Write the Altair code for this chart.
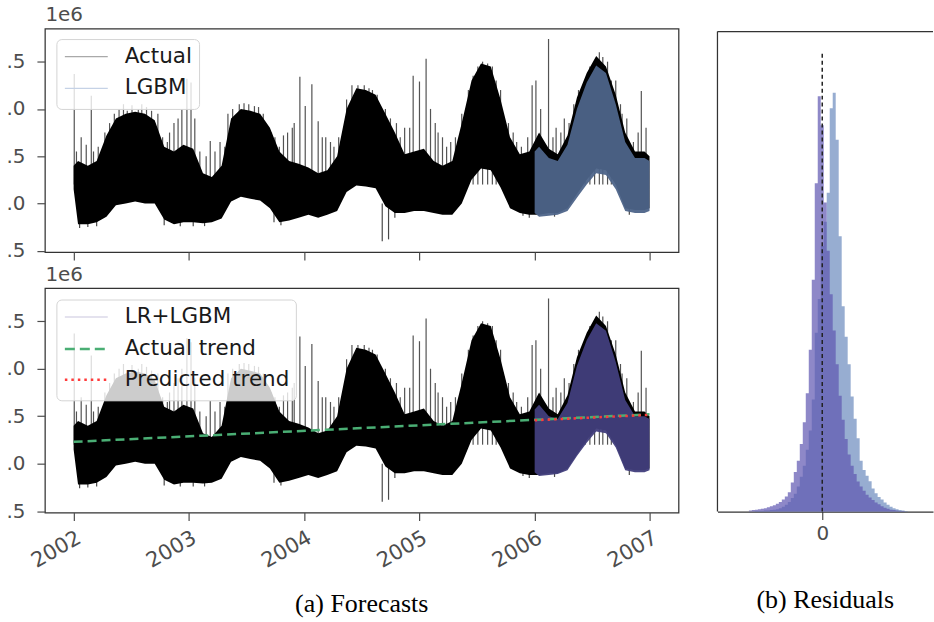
import altair as alt
import pandas as pd

# ---------------- data (values in units of 1e6) ----------------
YEARS = [2002, 2003, 2004, 2005, 2006, 2007]
Y_TICKS = [0.5, 1.0, 1.5, 2.0, 2.5]

ACT_DATES = ["2002-01-01"] + [f"{y}-{m:02d}-15" for y in range(2002, 2007) for m in range(1, 13)] + ["2006-12-31"]
ACT_HI = [1.40,
          1.45, 1.40, 1.45, 1.72, 1.90, 1.95, 1.97, 1.95, 1.88, 1.60, 1.55, 1.62,
          1.58, 1.32, 1.28, 1.40, 1.90, 2.00, 1.98, 1.95, 1.80, 1.55, 1.45, 1.42,
          1.38, 1.32, 1.35, 1.50, 2.00, 2.22, 2.20, 2.15, 1.95, 1.75, 1.52, 1.55,
          1.58, 1.45, 1.40, 1.45, 1.85, 2.30, 2.48, 2.45, 2.10, 1.70, 1.52, 1.55,
          1.75, 1.58, 1.52, 1.72, 2.12, 2.38, 2.56, 2.45, 2.15, 1.75, 1.55, 1.55,
          1.50]
ACT_LO = [1.15,
          0.78, 0.78, 0.80, 0.86, 0.98, 1.00, 1.02, 1.00, 1.00, 0.83, 0.78, 0.80,
          0.80, 0.79, 0.80, 0.84, 1.02, 1.07, 1.05, 1.03, 0.95, 0.80, 0.82, 0.85,
          0.88, 0.85, 0.88, 0.92, 1.12, 1.19, 1.18, 1.16, 0.97, 0.90, 0.90, 0.92,
          0.92, 0.90, 0.88, 0.88, 1.00, 1.25, 1.37, 1.35, 1.17, 0.95, 0.90, 0.88,
          0.88, 0.90, 0.90, 0.95, 1.10, 1.25, 1.37, 1.35, 1.20, 0.95, 0.93, 0.93,
          0.95]

FC_DATES = ["2006-01-01"] + [f"2006-{m:02d}-15" for m in range(1, 13)] + ["2006-12-31"]
LGBM_HI = [1.55, 1.60, 1.48, 1.45, 1.62, 2.00, 2.28, 2.46, 2.38, 2.05, 1.65, 1.48, 1.48, 1.45]
LGBM_LO = [0.90, 0.86, 0.87, 0.88, 0.92, 1.06, 1.20, 1.32, 1.30, 1.15, 0.92, 0.90, 0.90, 0.92]
LRL_HI = [1.57, 1.62, 1.50, 1.47, 1.64, 2.03, 2.30, 2.48, 2.40, 2.07, 1.67, 1.50, 1.50, 1.47]
LRL_LO = [0.91, 0.87, 0.88, 0.89, 0.93, 1.08, 1.22, 1.34, 1.32, 1.17, 0.93, 0.91, 0.91, 0.93]

SPIKE_DATES = ["2002-01-03", "2002-01-10", "2002-01-25", "2002-02-10", "2002-02-26", "2002-03-05",
               "2002-03-20", "2002-04-10", "2002-04-25", "2002-05-10", "2002-05-25", "2002-06-08",
               "2002-06-20", "2002-07-05", "2002-07-25", "2002-08-05", "2002-08-20", "2002-09-05",
               "2002-09-25", "2002-10-10", "2002-10-25", "2002-11-01", "2002-11-15", "2002-11-28",
               "2002-12-10", "2002-12-26", "2003-01-08", "2003-01-20", "2003-02-05", "2003-02-25",
               "2003-03-10", "2003-03-25", "2003-04-10", "2003-04-25", "2003-05-05", "2003-05-20",
               "2003-06-10", "2003-06-25", "2003-07-10", "2003-07-28", "2003-08-10", "2003-08-25",
               "2003-09-20", "2003-10-01", "2003-10-15", "2003-10-28", "2003-11-10", "2003-11-25",
               "2003-12-01", "2003-12-19", "2004-01-05", "2004-01-26", "2004-02-15", "2004-02-28",
               "2004-03-10", "2004-03-25", "2004-04-05", "2004-04-20", "2004-05-15", "2004-06-01",
               "2004-06-20", "2004-07-10", "2004-07-25", "2004-08-05", "2004-08-20", "2004-09-15",
               "2004-10-01", "2004-10-20", "2004-11-01", "2004-11-15", "2004-12-01", "2004-12-12",
               "2005-01-01", "2005-01-22", "2005-02-05", "2005-02-20", "2005-03-01", "2005-03-15",
               "2005-03-28", "2005-04-10", "2005-04-25", "2005-05-15", "2005-06-05", "2005-06-20",
               "2005-07-05", "2005-07-20", "2005-08-05", "2005-08-20", "2005-09-01", "2005-09-15",
               "2005-10-10", "2005-10-25", "2005-11-05", "2005-11-20", "2005-12-10", "2005-12-24",
               "2006-01-05", "2006-01-20", "2006-02-14", "2006-02-28", "2006-03-10", "2006-03-25",
               "2006-04-05", "2006-04-20", "2006-05-05", "2006-05-20", "2006-06-10", "2006-06-25",
               "2006-07-10", "2006-07-25", "2006-08-05", "2006-08-20", "2006-09-01", "2006-09-15",
               "2006-09-30", "2006-10-05", "2006-10-20", "2006-11-10", "2006-11-25", "2006-12-05",
               "2006-12-20"]
SPIKE_TOPS = [2.37, 1.55, 1.70, 1.62, 2.14, 1.55,
              1.60, 1.75, 1.85, 1.95, 2.00, 2.05,
              1.98, 2.04, 2.00, 2.05, 2.02, 1.98,
              1.95, 1.70, 1.65, 1.75, 1.85, 1.90,
              2.00, 2.32, 2.28, 1.90, 1.55, 1.50,
              1.66, 1.55, 1.65, 1.60, 1.95, 2.00,
              2.05, 2.06, 2.05, 2.03, 2.02, 1.95,
              1.75, 1.70, 1.60, 1.72, 1.75, 1.80,
              1.85, 2.34, 2.03, 2.26, 1.87, 1.70,
              1.70, 1.65, 1.60, 1.70, 2.10, 2.25,
              2.25, 2.25, 2.22, 2.20, 2.15, 2.00,
              1.90, 1.85, 1.70, 1.80, 1.80, 2.35,
              2.29, 2.53, 2.00, 1.85, 1.75, 1.70,
              1.60, 1.65, 1.70, 1.95, 2.20, 2.35,
              2.45, 2.50, 2.48, 2.45, 2.30, 2.20,
              1.85, 1.75, 1.65, 1.60, 1.70, 2.25,
              2.30, 2.00, 2.74, 1.70, 1.80, 1.75,
              1.90, 1.85, 2.05, 2.20, 2.30, 2.45,
              2.50, 2.60, 2.55, 2.50, 2.30, 2.30,
              2.05, 1.95, 1.90, 1.65, 1.75, 2.19,
              1.80]
DIP_DATES = ["2002-01-20", "2002-02-15", "2002-03-15", "2002-10-15", "2002-12-05", "2003-01-15",
             "2003-02-20", "2003-09-28", "2003-10-20", "2004-09-05", "2004-09-25", "2004-10-15",
             "2005-11-25", "2005-12-15", "2006-03-05", "2006-10-28"]
DIP_BOTTOMS = [0.74, 0.75, 0.76, 0.77, 0.76, 0.76,
               0.76, 0.80, 0.77, 0.60, 0.62, 0.85,
               0.87, 0.85, 0.86, 0.88]

TREND_DATES = ["2002-01-01", "2006-12-31"]
TREND_VALS = [1.23, 1.52]
PRED_DATES = ["2006-01-01", "2006-12-31"]
PRED_VALS = [1.457, 1.514]

# residual histograms (bin centres, counts)
BIN_WIDTH = 0.03
BIN_CENTERS = [round(-0.72 + 0.03 * i, 2) for i in range(53)]
LRL_COUNTS = [2, 3, 4, 5, 6, 7, 9, 11, 13, 16, 20, 25, 31, 40, 60, 82, 105, 140, 185, 245,
              335, 480, 680, 860, 800, 640, 540, 450, 375, 305, 240, 190, 150, 118, 95, 78,
              62, 52, 43, 35, 29, 24, 19, 15, 11, 8, 6, 4, 3, 2, 1, 1, 0]
LGBM_COUNTS = [0, 0, 1, 1, 1, 2, 2, 3, 4, 5, 7, 10, 14, 20, 28, 37, 52, 72, 95, 128,
               168, 232, 370, 440, 550, 600, 660, 835, 867, 770, 570, 425, 362, 305, 238, 192,
               152, 105, 86, 74, 63, 48, 38, 30, 25, 19, 14, 10, 7, 5, 3, 2, 1]
ZERO_LINE_TOP = 948

# ---------------- frames ----------------
act = pd.DataFrame({"t": ACT_DATES, "v": ACT_LO, "v2": ACT_HI})
lgbm = pd.DataFrame({"t": FC_DATES, "v": LGBM_LO, "v2": LGBM_HI})
lrl = pd.DataFrame({"t": FC_DATES, "v": LRL_LO, "v2": LRL_HI})
spikes = pd.DataFrame({"t": SPIKE_DATES, "v": SPIKE_TOPS})
dips = pd.DataFrame({"t": DIP_DATES, "v": DIP_BOTTOMS})
trend = pd.DataFrame({"t": TREND_DATES, "v": TREND_VALS})
pred = pd.DataFrame({"t": PRED_DATES, "v": PRED_VALS})

W, H1, H2 = 635, 224, 225
GREY = "#4d4d4d"
FRAME = "#333333"
CAPTION = dict(orient="bottom", font="Liberation Serif", fontSize=26, fontWeight="normal",
               color="black", anchor="middle")

x_scale = alt.Scale(domain=[alt.DateTime(year=2001, month=10, date=2),
                            alt.DateTime(year=2007, month=4, date=2)])
y_scale = alt.Scale(domain=[0.485, 2.85], nice=False, zero=False)
year_vals = [alt.DateTime(year=y, month=1, date=1) for y in YEARS]


def x_enc(labels):
    return alt.X("t:T", scale=x_scale, title=None,
                 axis=alt.Axis(values=year_vals, format="%Y", labels=labels, tickSize=8,
                               tickColor=GREY, tickWidth=1.2, labelAngle=330, labelAlign="right",
                               labelBaseline="top", labelPadding=6, labelFontSize=21,
                               labelColor=GREY, domain=False, grid=False))


Y = alt.Y("v:Q", scale=y_scale, title="1e6",
          axis=alt.Axis(values=Y_TICKS, labelExpr="substring(format(datum.value, '.1f'), 1)",
                        tickSize=8, tickColor=GREY, tickWidth=1.2, labelPadding=12,
                        labelFontSize=20, labelColor=GREY, domain=False, grid=False,
                        titleAngle=0, titleX=0, titleY=-8, titleAlign="left",
                        titleBaseline="alphabetic", titleFontSize=20, titleFontWeight="normal",
                        titleColor=GREY))

one = pd.DataFrame({"a": [0]})


def legend(box, entries):
    x0, x1, y0, y1 = box
    layers = [alt.Chart(one).mark_rect(fill="white", fillOpacity=0.8, stroke="#d4d4d4",
                                       strokeWidth=1, cornerRadius=5)
              .encode(x=alt.value(x0), x2=alt.value(x1), y=alt.value(y0), y2=alt.value(y1))]
    for label, color, dash, width, yy in entries:
        kw = {"strokeDash": dash} if dash else {}
        layers.append(alt.Chart(one).mark_rule(color=color, strokeWidth=width, **kw)
                      .encode(x=alt.value(20), x2=alt.value(63), y=alt.value(yy)))
        layers.append(alt.Chart(one).mark_text(text=label, align="left", baseline="middle",
                                               fontSize=21.5, color="#1a1a1a")
                      .encode(x=alt.value(80), y=alt.value(yy)))
    return layers


def base_layers(xe):
    return [
        alt.Chart(spikes).mark_rule(color="#1a1a1a", strokeWidth=1.2, opacity=0.75).encode(
            x=xe, y=Y, y2=alt.datum(1.2)),
        alt.Chart(dips).mark_rule(color="#1a1a1a", strokeWidth=1.2, opacity=0.8).encode(
            x="t:T", y="v:Q", y2=alt.datum(1.0)),
        alt.Chart(act).mark_area(color="black").encode(x="t:T", y="v:Q", y2="v2:Q"),
    ]


top = alt.layer(
    *base_layers(x_enc(False)),
    alt.Chart(lgbm).mark_area(color="#4d6489", opacity=0.95).encode(x="t:T", y="v:Q", y2="v2:Q"),
    *legend((12, 155, 11, 81), [("Actual", "#a9a9a9", None, 1.2, 28),
                                ("LGBM", "#c5d2e6", None, 1.2, 60)]),
).properties(width=W, height=H1)

bottom = alt.layer(
    *base_layers(x_enc(True)),
    alt.Chart(lrl).mark_area(color="#413e7c", opacity=0.95).encode(x="t:T", y="v:Q", y2="v2:Q"),
    alt.Chart(trend).mark_line(color="#4aae74", strokeWidth=2.5, strokeDash=[9, 5]).encode(
        x="t:T", y="v:Q"),
    alt.Chart(pred).mark_line(color="#ff3a3a", strokeWidth=2.5, strokeDash=[2.5, 4]).encode(
        x="t:T", y="v:Q"),
    *legend((12, 252, 12, 113), [("LR+LGBM", "#c9c5dd", None, 1.2, 29),
                                 ("Actual trend", "#4aae74", [10, 5], 2.5, 61),
                                 ("Predicted trend", "#ff3a3a", [2.5, 4], 2.5, 92)]),
).properties(width=W, height=H2,
             title=alt.TitleParams("(a) Forecasts", offset=20, **CAPTION))

left = alt.vconcat(top, bottom, spacing=36, bounds="flush")

# ---------------- histogram ----------------
HW, HH = 216, 484


def hist_frame(counts):
    edges = [c - BIN_WIDTH / 2 for c in BIN_CENTERS] + [BIN_CENTERS[-1] + BIN_WIDTH / 2]
    return pd.DataFrame({"r": edges, "c": counts + [counts[-1]]})


hx = alt.X("r:Q", scale=alt.Scale(domain=[-1.05, 1.11], nice=False, zero=False), title=None,
           axis=alt.Axis(values=[0], format="d", tickSize=8, tickColor=GREY, tickWidth=1.2,
                         labelFontSize=20, labelColor=GREY, labelPadding=4, domain=True,
                         domainColor=FRAME, domainWidth=1.25, grid=False))
hy = alt.Y("c:Q", scale=alt.Scale(domain=[0, 1000], nice=False), axis=None)

hist = alt.layer(
    alt.Chart(hist_frame(LGBM_COUNTS)).mark_area(interpolate="step-after", color="#4c72b0",
                                                  opacity=0.58).encode(x=hx, y=hy),
    alt.Chart(hist_frame(LRL_COUNTS)).mark_area(interpolate="step-after", color="#5e55b0",
                                                 opacity=0.7).encode(x="r:Q", y="c:Q"),
    alt.Chart(pd.DataFrame({"r": [0.0], "c": [ZERO_LINE_TOP]})).mark_rule(
        color="#222222", strokeWidth=1.5, strokeDash=[4, 3]).encode(x="r:Q", y="c:Q", y2=alt.datum(0)),
    alt.Chart(one).mark_rule(color=FRAME, strokeWidth=1.25).encode(
        x=alt.value(0), y=alt.value(3), y2=alt.value(HH)),
    alt.Chart(one).mark_rule(color=FRAME, strokeWidth=1.25).encode(
        x=alt.value(0), x2=alt.value(HW), y=alt.value(3)),
).properties(width=HW, height=HH, view=alt.ViewBackground(stroke=None),
             title=alt.TitleParams("(b) Residuals", offset=44, **CAPTION))

chart = alt.hconcat(left, hist, spacing=37).properties(
    padding={"left": 5, "top": 3, "right": 0, "bottom": 0}, background="white"
).configure(font="DejaVu Sans").configure_view(stroke=FRAME, strokeWidth=1.25)

chart.save("out.html", embed_options={"renderer": "svg", "actions": False})
